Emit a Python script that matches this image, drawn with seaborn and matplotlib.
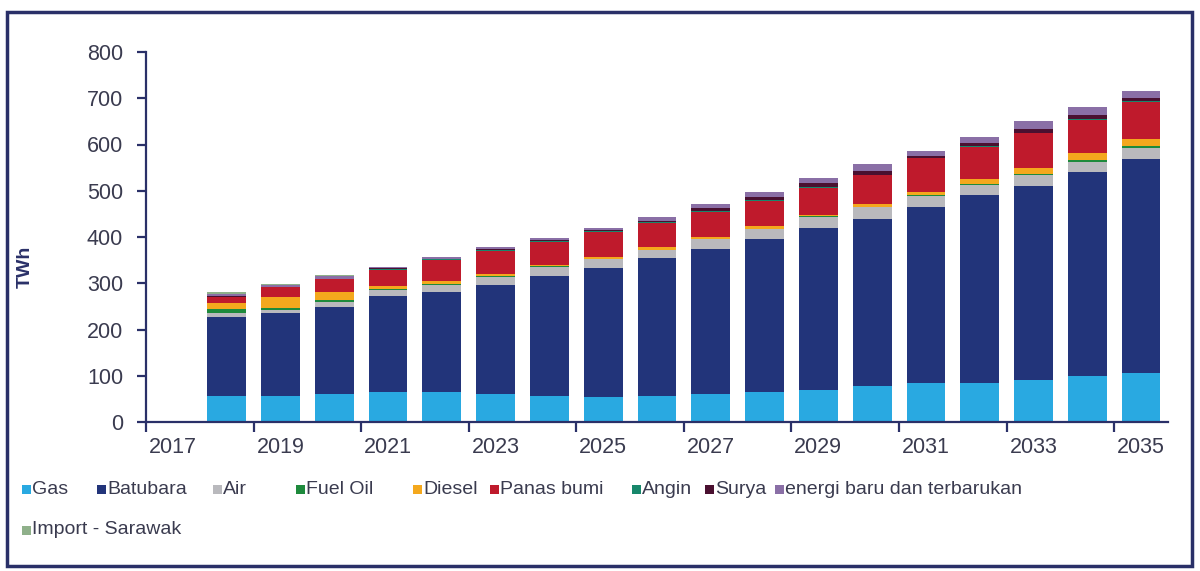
import numpy as np
import pandas as pd
import matplotlib
matplotlib.use("Agg")
import matplotlib.pyplot as plt
from matplotlib.patches import Rectangle
import seaborn as sns

# ---- data (TWh) ----
all_years = [str(y) for y in range(2017, 2036)]
years = [str(y) for y in range(2018, 2036)]
tick_labels = [str(y) for y in range(2017, 2036, 2)]

gas = [57, 57, 60, 65, 65, 61, 57, 53, 57, 60, 65, 70, 77, 85, 85, 90, 100, 107]
batubara = [171, 178, 188, 208, 217, 235, 259, 279, 297, 314, 331, 350, 363, 380, 406, 420, 441, 462]
air = [7, 8, 12, 13, 15, 18, 20, 20, 18, 21, 21, 24, 24, 23, 22, 25, 22, 23]
fuel_oil = [9, 3, 4, 2, 1, 1, 0.5, 0.5, 0.5, 0.5, 1, 1, 1, 2, 1, 1, 3, 5]
diesel = [13, 24, 18, 5, 6, 5, 2, 5, 5, 5, 6, 3, 7, 8, 12, 13, 16, 14]
panas_bumi = [14, 21, 27, 36, 46, 50, 51, 53, 52, 54, 54, 59, 62, 72, 69, 75, 72, 81]
angin = [0, 0, 0, 2, 2, 2, 2, 2, 2, 2, 1, 1, 1, 1, 1, 1, 1, 1]
surya = [1, 1, 1, 1, 1, 1, 2, 2, 3, 6, 8, 9, 7, 5, 7, 9, 9, 7]
ebt = [5, 4, 5, 4, 4, 5, 5, 6, 9, 8, 11, 10, 15, 11, 14, 16, 18, 16]
import_sarawak = [5, 2, 3, 0, 0, 0, 0, 0, 0, 0, 0, 0, 0, 0, 0, 0, 0, 0]

series = ["Gas", "Batubara", "Air", "Fuel Oil", "Diesel", "Panas bumi",
          "Angin", "Surya", "energi baru dan terbarukan", "Import - Sarawak"]
values = [gas, batubara, air, fuel_oil, diesel, panas_bumi, angin, surya, ebt, import_sarawak]
colors = ["#29A9E1", "#22347A", "#B9B9BD", "#1E8A3C", "#F4A81D", "#BF1A2C",
          "#17876B", "#4A1030", "#8A6FA6", "#8FB08A"]

# ---- style ----
sns.set_theme(style="ticks")
plt.rcParams['font.family'] = ['Liberation Sans', 'DejaVu Sans']
txt = "#3A3B4F"
navy = "#2A3068"

W, H = 1200, 571
fig = plt.figure(figsize=(W / 100, H / 100), dpi=100)
fig.patch.set_facecolor("white")
ax = fig.add_axes([146 / W, 1 - 422 / H, (1168 - 146) / W, (422 - 52) / H])

cum = np.cumsum(np.array(values, dtype=float), axis=0)
for i in reversed(range(len(series))):
    df = pd.DataFrame({"Tahun": years, "TWh": cum[i]})
    sns.barplot(data=df, x="Tahun", y="TWh", order=all_years, color=colors[i],
                saturation=1, width=0.72, linewidth=0, errorbar=None, ax=ax)

ax.set_xlim(-0.5, 18.5)
ax.set_ylim(0, 800)
ax.set_yticks(range(0, 801, 100))
ax.set_xticks(range(0, 19, 2))
ax.set_xticklabels(tick_labels)
ax.set_xticks(np.arange(-0.5, 18, 2), minor=True)
ax.set_xlabel("")
ax.set_ylabel("")

sns.despine(ax=ax)
for s in ["left", "bottom"]:
    ax.spines[s].set_color(navy)
    ax.spines[s].set_linewidth(1.6)

ax.tick_params(axis="x", which="major", length=0, pad=11, labelsize=15.5, labelcolor=txt)
ax.tick_params(axis="x", which="minor", length=7, width=1.6, color=navy, bottom=True)
ax.tick_params(axis="y", which="major", length=6.5, width=1.6, color=navy, pad=10,
               labelsize=15.5, labelcolor=txt, left=True)

fig.text(25 / W, 1 - 267 / H, "TWh", rotation=90, fontsize=14, fontweight="bold",
         color=navy, ha="center", va="center")

# ---- legend (manual layout like the original) ----
leg_pos = [(22, 489), (97, 489), (213, 489), (296, 489), (413, 489), (490, 489),
           (632, 489), (705, 489), (775, 489), (22, 530)]
sq = 9
for (px, py), name, c in zip(leg_pos, series, colors):
    fig.add_artist(Rectangle((px / W, 1 - (py + sq / 2) / H), sq / W, sq / H,
                             transform=fig.transFigure, facecolor=c, edgecolor="none"))
    fig.text((px + sq + 1) / W, 1 - py / H, name, fontsize=14, color=txt,
             ha="left", va="center")

# ---- outer frame ----
fig.add_artist(Rectangle((7 / W, 1 - 566 / H), (1192 - 7) / W, (566 - 12) / H,
                         transform=fig.transFigure, fill=False, edgecolor=navy, linewidth=2.5))

fig.savefig("out.png", dpi=100)
